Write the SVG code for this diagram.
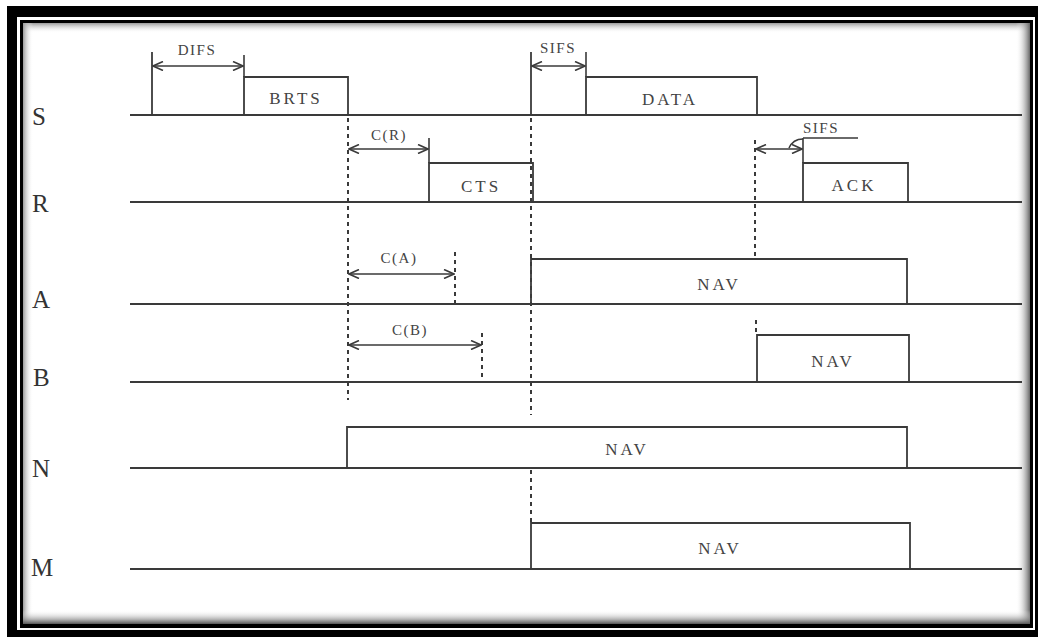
<svg xmlns="http://www.w3.org/2000/svg" width="1043" height="638" viewBox="0 0 1043 638">
<style>
.base{stroke:#3a3a3a;stroke-width:2;fill:none}
.box{stroke:#3a3a3a;stroke-width:1.8;fill:none}
.dot{stroke:#3a3a3a;stroke-width:2;stroke-dasharray:4 4;fill:none}
.arr{stroke:#3a3a3a;stroke-width:1.6;fill:none;marker-start:url(#ah);marker-end:url(#ah)}
.tick{stroke:#3a3a3a;stroke-width:1.6;fill:none}
.lab{font-family:"Liberation Serif",serif;font-size:25px;fill:#333}
.bt{font-family:"Liberation Serif",serif;font-size:17px;fill:#444;letter-spacing:3px;text-anchor:middle}
.st{font-family:"Liberation Serif",serif;font-size:15px;fill:#444;letter-spacing:1.5px;text-anchor:middle}
</style>
<defs>
<marker id="ah" viewBox="0 0 12 10" refX="11" refY="5" markerWidth="12" markerHeight="10" markerUnits="userSpaceOnUse" orient="auto-start-reverse">
<path d="M1,0.5 L11,5 L1,9.5" fill="none" stroke="#3a3a3a" stroke-width="1.6"/>
</marker>
<linearGradient id="gT" x1="0" y1="0" x2="0" y2="1"><stop offset="0" stop-color="#9a9a9a"/><stop offset="1" stop-color="#fff" stop-opacity="0"/></linearGradient>
<linearGradient id="gB" x1="0" y1="1" x2="0" y2="0"><stop offset="0" stop-color="#555"/><stop offset="1" stop-color="#fff" stop-opacity="0"/></linearGradient>
<linearGradient id="gL" x1="0" y1="0" x2="1" y2="0"><stop offset="0" stop-color="#9a9a9a"/><stop offset="1" stop-color="#fff" stop-opacity="0"/></linearGradient>
<linearGradient id="gR" x1="1" y1="0" x2="0" y2="0"><stop offset="0" stop-color="#666"/><stop offset="1" stop-color="#fff" stop-opacity="0"/></linearGradient>
</defs>
<rect width="1043" height="638" fill="#fff"/>
<g id="frame">
<rect x="7" y="6" width="1031" height="631" fill="#000"/>
<rect x="17" y="17" width="1018" height="613" fill="#fff"/>
<rect x="20" y="20" width="1013" height="608" fill="#000"/>
<rect x="23" y="23" width="1007" height="601" fill="#fff"/>
<rect x="23" y="23" width="1007" height="10" fill="url(#gT)"/>
<rect x="23" y="23" width="10" height="601" fill="url(#gL)"/>
<rect x="1016" y="23" width="14" height="601" fill="url(#gR)"/>
<rect x="23" y="610" width="1007" height="14" fill="url(#gB)"/>
</g>
<g id="row-S">
<text class="lab" x="32" y="125">S</text>
<path class="base" d="M130,115 H1022"/>
<path class="box" d="M152,115 V52"/>
<g id="node-BRTS"><path class="box" d="M244,115 V77 H348 V115"/><text class="bt" x="296" y="104">BRTS</text></g>
<path class="box" d="M531,115 V52"/>
<g id="node-DATA"><path class="box" d="M586,115 V77 H757 V115"/><text class="bt" x="670" y="105">DATA</text></g>
</g>
<g id="row-R">
<text class="lab" x="32" y="212">R</text>
<path class="base" d="M130,202 H1022"/>
<g id="node-CTS"><path class="box" d="M429,202 V163 H533 V202"/><text class="bt" x="481" y="192">CTS</text></g>
<g id="node-ACK"><path class="box" d="M803,202 V163 H908 V202"/><text class="bt" x="854" y="191">ACK</text></g>
</g>
<g id="row-A">
<text class="lab" x="32" y="308">A</text>
<path class="base" d="M130,304 H1022"/>
<g id="node-NAV-A"><path class="box" d="M531,304 V259 H907 V304"/><text class="bt" x="719" y="290">NAV</text></g>
</g>
<g id="row-B">
<text class="lab" x="33" y="386">B</text>
<path class="base" d="M130,382 H1022"/>
<g id="node-NAV-B"><path class="box" d="M757,382 V335 H909 V382"/><text class="bt" x="833" y="367">NAV</text></g>
</g>
<g id="row-N">
<text class="lab" x="32" y="477">N</text>
<path class="base" d="M130,468 H1022"/>
<g id="node-NAV-N"><path class="box" d="M347,468 V427 H907 V468"/><text class="bt" x="627" y="455">NAV</text></g>
</g>
<g id="row-M">
<text class="lab" x="31" y="576">M</text>
<path class="base" d="M130,569 H1022"/>
<g id="node-NAV-M"><path class="box" d="M531,569 V523 H910 V569"/><text class="bt" x="720" y="554">NAV</text></g>
</g>
<g id="connectors">
<path class="dot" d="M348,118 V400"/>
<path class="dot" d="M531,118 V415"/>
<path class="dot" d="M531,470 V523"/>
<path class="dot" d="M755,140 V259"/>
<path class="dot" d="M756,320 V335"/>
<path class="dot" d="M455,252 V304"/>
<path class="dot" d="M482,333 V382"/>
<path class="tick" d="M244,55 V77"/>
<path class="tick" d="M586,52 V77"/>
<path class="tick" d="M429,138 V163"/>
<path class="tick" d="M803,138 V163 M803,138 H858"/>
<path class="tick" d="M789,148 Q793,139 803,139"/>
<path class="arr" d="M153,66 H243"/>
<path class="arr" d="M532,66 H585"/>
<path class="arr" d="M349,149 H428"/>
<path class="arr" d="M756,149 H802"/>
<path class="arr" d="M349,274 H454"/>
<path class="arr" d="M349,345 H481"/>
<text class="st" x="197" y="55">DIFS</text>
<text class="st" x="558" y="53">SIFS</text>
<text class="st" x="389" y="140">C(R)</text>
<text class="st" x="821" y="133">SIFS</text>
<text class="st" x="399" y="263">C(A)</text>
<text class="st" x="410" y="335">C(B)</text>
</g>
</svg>
